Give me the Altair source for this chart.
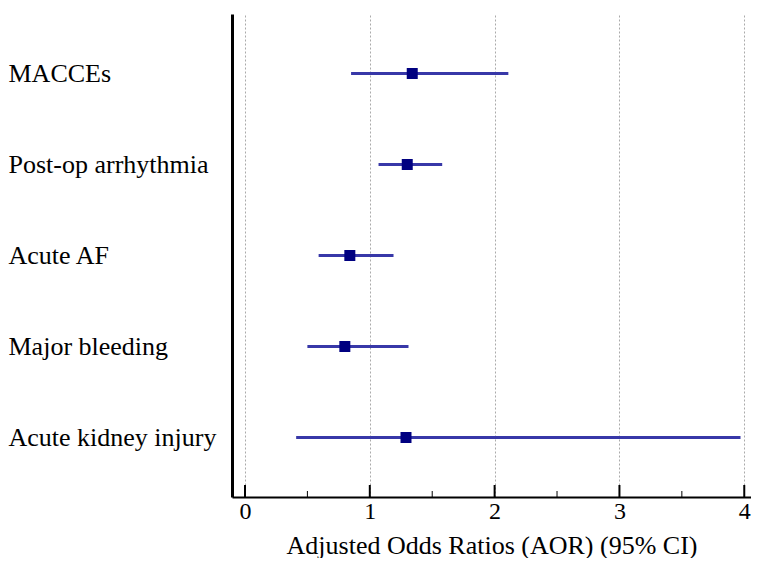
import altair as alt
import pandas as pd

outcomes = ["MACCEs", "Post-op arrhythmia", "Acute AF", "Major bleeding", "Acute kidney injury"]
aor = [1.34, 1.30, 0.84, 0.80, 1.29]
ci_low = [0.85, 1.07, 0.59, 0.50, 0.41]
ci_high = [2.11, 1.58, 1.19, 1.31, 3.97]

major_ticks = [0, 1, 2, 3, 4]
minor_ticks = [0.5, 1.5, 2.5, 3.5]

W, H = 519, 483
FONT = "Liberation Serif"

df = pd.DataFrame({"outcome": outcomes, "aor": aor, "lo": ci_low, "hi": ci_high})
ticks_df = pd.DataFrame({"v": major_ticks + minor_ticks,
                         "len": [12] * len(major_ticks) + [6] * len(minor_ticks)})

xscale = alt.Scale(domain=[-0.104, 4.054], nice=False, zero=False)
yscale = alt.Scale(type="point", domain=outcomes, padding=0.654)

base = alt.Chart(df)

ci = base.mark_rule(color="#3838a8", strokeWidth=3).encode(
    x=alt.X("lo:Q", scale=xscale,
            axis=alt.Axis(title="Adjusted Odds Ratios (AOR) (95% CI)", values=major_ticks,
                          format="d", grid=True, gridDash=[2, 2], gridColor="#aaaaaa",
                          gridWidth=1, ticks=False, labelPadding=2,
                          labelFont=FONT, labelFontSize=24, labelColor="black",
                          titleFont=FONT, titleFontSize=26, titleFontWeight="normal",
                          titleColor="black", titlePadding=9,
                          domainColor="black", domainWidth=2)),
    x2="hi:Q",
    y=alt.Y("outcome:O", scale=yscale,
            axis=alt.Axis(title=None, labelAlign="left", labelPadding=224, ticks=False,
                          labelFont=FONT, labelFontSize=26, labelColor="black",
                          domainColor="black", domainWidth=3, labelLimit=0)),
)

pts = base.mark_square(color="#000080", size=121, opacity=1).encode(
    x=alt.X("aor:Q", scale=xscale),
    y=alt.Y("outcome:O", scale=yscale),
)

ticks_major = alt.Chart(ticks_df).transform_filter("datum.len == 12").mark_rule(
    color="black", strokeWidth=2).encode(
    x=alt.X("v:Q", scale=xscale),
    y=alt.value(H - 12), y2=alt.value(H),
)
ticks_minor = alt.Chart(ticks_df).transform_filter("datum.len == 6").mark_rule(
    color="black", strokeWidth=1).encode(
    x=alt.X("v:Q", scale=xscale),
    y=alt.value(H - 6), y2=alt.value(H),
)

chart = alt.layer(ci, ticks_major, ticks_minor, pts).properties(
    width=W, height=H,
    padding={"left": 0, "top": 6, "right": 0, "bottom": 0},
    background="white",
).configure_view(stroke=None)

chart.save("out.html", embed_options={"renderer": "svg", "actions": False})
